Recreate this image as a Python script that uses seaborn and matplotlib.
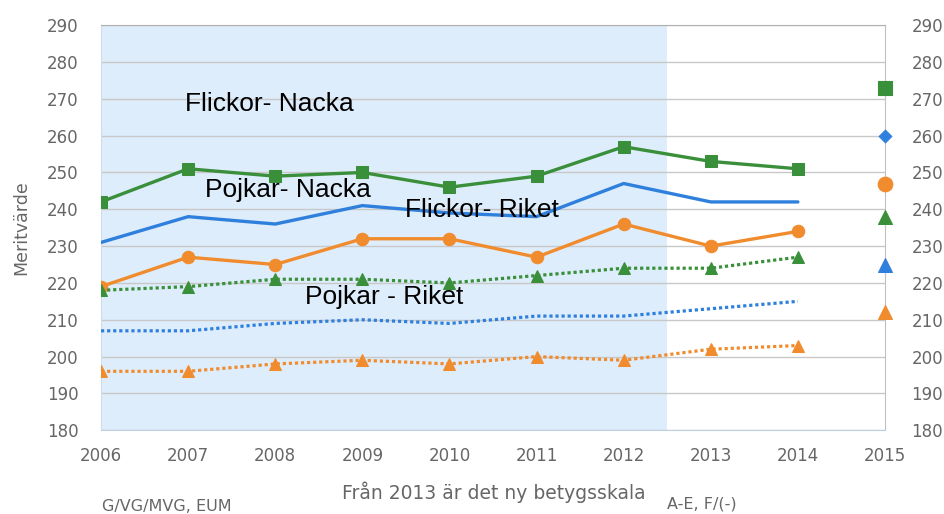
import seaborn as sns
import matplotlib.pyplot as plt

# Data (meritvärde per year)
years = [2006, 2007, 2008, 2009, 2010, 2011, 2012, 2013, 2014]
flickor_nacka = [242, 251, 249, 250, 246, 249, 257, 253, 251]
blue_nacka = [231, 238, 236, 241, 239, 238, 247, 242, 242]
orange_nacka = [219, 227, 225, 232, 232, 227, 236, 230, 234]
green_riket = [218, 219, 221, 221, 220, 222, 224, 224, 227]
blue_riket = [207, 207, 209, 210, 209, 211, 211, 213, 215]
orange_riket = [196, 196, 198, 199, 198, 200, 199, 202, 203]

# lone points at 2015
year_2015 = [2015]
pt_green_sq = [273]
pt_blue_dia = [260]
pt_orange_circ = [247]
pt_green_tri = [238]
pt_blue_tri = [225]
pt_orange_tri = [212]

yticks = list(range(180, 300, 10))

green = '#3a8f3a'
blue = '#2f80dc'
orange = '#f08c2e'
grey_txt = '#666666'

sns.set_style('white')
fig = plt.figure(figsize=(9.44, 5.14), dpi=100)
ax = fig.add_axes([0.107, 0.163, 0.8305, 0.788])

# shaded old grading period
ax.axvspan(2006, 2012.5, color='#deedfc', zorder=0, lw=0)

for v in yticks:
    ax.axhline(v, color='#c8c8c8', lw=1, zorder=1)

dot = (0, (1, 0.9))
sns.lineplot(x=years, y=flickor_nacka, ax=ax, color=green, lw=2.4, marker='s', markersize=9,
             markeredgecolor=green, zorder=5)
sns.lineplot(x=years, y=blue_nacka, ax=ax, color=blue, lw=2.4, zorder=5)
sns.lineplot(x=years, y=orange_nacka, ax=ax, color=orange, lw=2.4, marker='o', markersize=9,
             markeredgecolor=orange, zorder=5)
sns.lineplot(x=years, y=green_riket, ax=ax, color=green, lw=2.3, linestyle=dot, marker='^',
             markersize=9, markeredgecolor=green, zorder=5)
sns.lineplot(x=years, y=blue_riket, ax=ax, color=blue, lw=2.3, linestyle=dot, zorder=5)
sns.lineplot(x=years, y=orange_riket, ax=ax, color=orange, lw=2.3, linestyle=dot, marker='^',
             markersize=9, markeredgecolor=orange, zorder=5)

for vals, c, m, s in [(pt_green_sq, green, 's', 100), (pt_blue_dia, blue, 'D', 45),
                      (pt_orange_circ, orange, 'o', 110), (pt_green_tri, green, '^', 100),
                      (pt_blue_tri, blue, '^', 100), (pt_orange_tri, orange, '^', 100)]:
    sns.scatterplot(x=year_2015, y=vals, ax=ax, color=c, marker=m, s=s, edgecolor=c,
                    zorder=6, clip_on=False)

ax.set_xlim(2006, 2015)
ax.set_ylim(180, 290)
ax.set_xticks(list(range(2006, 2016)))
ax.set_yticks(yticks)
ax.tick_params(axis='x', colors='#c0d0e0', length=8, width=1, pad=4, labelcolor=grey_txt,
               labelsize=12)
ax.tick_params(axis='y', length=0, pad=16, labelcolor=grey_txt, labelsize=12)
ax.spines['top'].set_color('#b0b0b0')
ax.spines['bottom'].set_color('#c0d0e0')
ax.spines['left'].set_color('#d0dcea')
ax.spines['right'].set_color('#c0c0c0')
ax.set_ylabel('Meritvärde', color=grey_txt, fontsize=12.5, labelpad=12)
ax.set_xlabel('')

ax2 = ax.twinx()
ax2.set_ylim(180, 290)
ax2.set_yticks(yticks)
ax2.tick_params(axis='y', length=0, pad=19, labelcolor=grey_txt, labelsize=12)
for sp in ax2.spines.values():
    sp.set_visible(False)

lab = dict(fontsize=19, family=['Liberation Sans', 'DejaVu Sans'], color='black',
           ha='left', va='center', zorder=7)
ax.text(2006.96, 268.6, 'Flickor- Nacka', **lab)
ax.text(2007.19, 245.3, 'Pojkar- Nacka', **lab)
ax.text(2009.49, 239.7, 'Flickor- Riket', **lab)
ax.text(2008.34, 216.2, 'Pojkar - Riket', **lab)

fig.text(0.523, 0.043, 'Från 2013 är det ny betygsskala', color=grey_txt, fontsize=13.5,
         ha='center', va='center')
fig.text(0.108, 0.015, 'G/VG/MVG, EUM', color=grey_txt, fontsize=11.5, ha='left', va='center')
fig.text(0.707, 0.019, 'A-E, F/(-)', color=grey_txt, fontsize=11.5, ha='left', va='center')

fig.savefig('out.png', dpi=100)
